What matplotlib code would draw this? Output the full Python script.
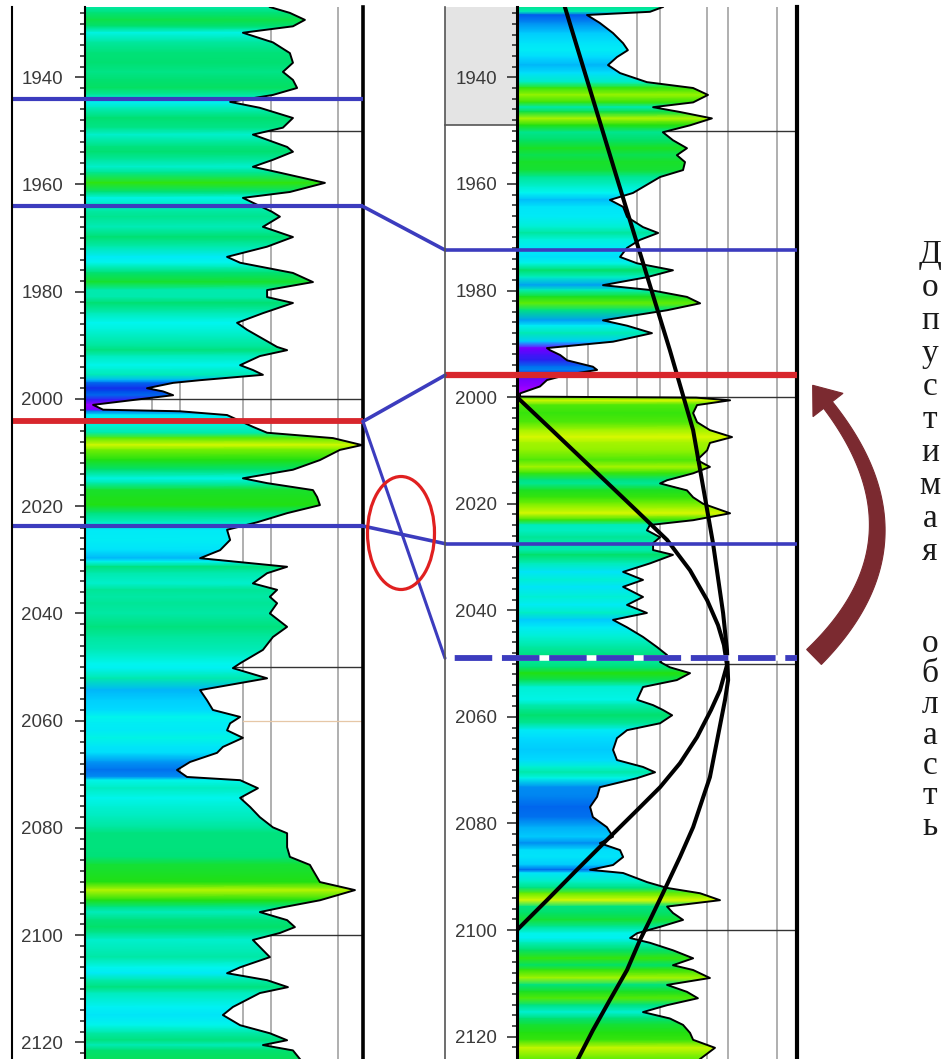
import numpy as np
import matplotlib
matplotlib.use("Agg")
import matplotlib.pyplot as plt
from matplotlib.colors import LinearSegmentedColormap, Normalize
from matplotlib.patches import Polygon, Ellipse, Rectangle, ConnectionPatch
from matplotlib.lines import Line2D

plt.rcParams['font.family'] = ['Liberation Sans', 'DejaVu Sans']
plt.rcParams['lines.scale_dashes'] = False

# ---- log values (track width in %, depth in m) ----
depth_L = [1926.9, 1928.0, 1929.3, 1930.5, 1931.7, 1933.5, 1935.5, 1937.3, 1939.0, 1940.5,
           1942.0, 1943.3, 1944.6, 1945.7, 1947.6, 1949.4, 1950.7, 1953.0, 1953.9, 1955.4,
           1956.7, 1957.8, 1959.7, 1961.4, 1962.5, 1963.4, 1965.1, 1966.0, 1967.9, 1969.8,
           1971.6, 1973.5, 1974.6, 1976.5, 1978.2, 1979.7, 1981.0, 1982.1, 1984.0, 1985.8,
           1987.1, 1990.3, 1990.9, 1992.0, 1993.7, 1994.6, 1995.5, 1996.5, 1997.0, 1998.0,
           1998.6, 1999.3, 2000.2, 2001.1, 2002.0, 2002.3, 2003.0, 2003.5, 2005.2, 2006.3,
           2007.3, 2008.6, 2009.5, 2011.4, 2013.2, 2014.8, 2015.7, 2017.0, 2018.3, 2019.8,
           2021.3, 2023.0, 2024.4, 2026.3, 2028.2, 2029.7, 2030.3, 2031.3, 2032.5, 2034.4,
           2035.6, 2036.9, 2038.1, 2040.0, 2042.5, 2044.4, 2046.8, 2049.3, 2050.2, 2052.1,
           2054.3, 2056.2, 2058.0, 2059.3, 2060.5, 2061.8, 2063.2, 2064.9, 2066.0, 2067.7,
           2069.2, 2070.5, 2071.1, 2072.6, 2074.4, 2076.1, 2078.0, 2079.9, 2081.0, 2083.6,
           2085.4, 2086.9, 2087.9, 2090.1, 2091.6, 2093.5, 2094.8, 2095.7, 2097.2, 2098.5,
           2099.6, 2100.9, 2102.8, 2104.1, 2106.0, 2107.1, 2108.4, 2109.7, 2110.8, 2113.4,
           2114.9, 2116.8, 2118.3, 2119.6, 2120.5, 2121.5, 2123.1]
gr_L = [66.5, 73.7, 79.1, 74.8, 56.8, 67.6, 73.7, 74.8, 71.2, 74.8,
        76.3, 67.6, 52.2, 62.9, 74.8, 71.2, 60.4, 72.7, 74.8, 67.6,
        60.4, 70.1, 86.3, 73.7, 56.8, 60.4, 67.3, 70.1, 64.0, 74.8,
        65.5, 51.1, 55.8, 74.8, 82.0, 65.5, 65.5, 74.8, 64.0, 54.7,
        58.3, 69.1, 72.7, 62.9, 55.8, 60.4, 64.0, 41.4, 31.7, 22.3,
        28.1, 31.7, 17.3, 2.9, 6.5, 34.2, 51.1, 53.2, 60.4, 65.5,
        89.2, 99.6, 91.7, 84.5, 74.8, 56.8, 65.5, 82.0, 83.5, 84.5,
        72.7, 61.9, 51.1, 52.2, 48.6, 41.4, 53.2, 72.7, 65.5, 60.4,
        69.1, 66.5, 69.1, 66.5, 72.7, 67.6, 64.0, 55.8, 53.2, 65.5,
        41.4, 43.9, 46.0, 55.8, 52.2, 51.1, 56.8, 49.6, 47.5, 37.8,
        33.1, 36.7, 55.8, 62.2, 55.8, 59.4, 62.9, 67.6, 72.7, 72.7,
        73.7, 80.9, 82.0, 84.5, 97.1, 84.5, 71.2, 62.9, 72.7, 75.5,
        70.1, 60.4, 64.0, 66.5, 55.8, 51.1, 65.5, 73.0, 62.9, 53.2,
        49.6, 55.8, 66.5, 72.7, 64.0, 74.8, 77.3]

depth_R = [1926.8, 1927.7, 1928.3, 1929.8, 1931.7, 1933.6, 1934.9, 1936.2, 1937.7, 1939.2,
           1940.9, 1942.0, 1943.3, 1944.7, 1945.6, 1946.5, 1947.7, 1949.0, 1950.3, 1951.8,
           1953.3, 1954.6, 1955.9, 1957.4, 1958.7, 1960.6, 1961.7, 1963.0, 1964.3, 1966.2,
           1968.1, 1969.2, 1970.5, 1972.0, 1973.7, 1974.9, 1976.2, 1977.5, 1979.0, 1979.9,
           1981.2, 1982.4, 1983.7, 1985.6, 1986.6, 1988.0, 1989.6, 1990.8, 1991.2, 1992.1,
           1993.1, 1994.3, 1994.9, 1995.8, 1996.8, 1998.0, 1999.3, 1999.9, 2000.1, 2000.6,
           2001.5, 2003.0, 2004.7, 2006.2, 2007.5, 2008.6, 2010.0, 2011.8, 2013.1, 2014.3,
           2015.6, 2016.2, 2017.5, 2018.8, 2020.0, 2021.8, 2023.1, 2024.0, 2025.0, 2026.3,
           2027.4, 2028.7, 2029.6, 2031.2, 2032.8, 2034.3, 2035.6, 2037.5, 2039.0, 2040.5,
           2041.8, 2043.2, 2045.0, 2046.9, 2048.4, 2049.7, 2050.7, 2051.8, 2053.1, 2054.4,
           2056.8, 2057.8, 2058.7, 2059.7, 2061.2, 2062.5, 2064.0, 2066.2, 2068.1, 2069.4,
           2070.4, 2071.5, 2073.2, 2075.0, 2076.9, 2078.8, 2080.7, 2082.5, 2083.7, 2085.0,
           2086.3, 2087.8, 2088.7, 2089.3, 2091.0, 2092.1, 2093.1, 2094.4, 2095.6, 2096.8,
           2098.1, 2099.4, 2100.6, 2101.5, 2102.4, 2103.8, 2105.3, 2106.6, 2107.5, 2109.0,
           2110.3, 2111.6, 2112.8, 2114.1, 2115.4, 2116.6, 2117.8, 2119.3, 2120.6, 2122.1,
           2124.2]
gr_R = [52.1, 47.5, 25.0, 29.6, 34.3, 37.9, 39.6, 35.7, 32.5, 36.8,
        46.4, 62.9, 68.2, 62.9, 48.6, 58.2, 69.6, 61.8, 52.1, 55.7,
        60.7, 57.1, 60.0, 59.3, 51.1, 45.0, 41.4, 33.2, 37.9, 39.3,
        45.0, 50.4, 43.9, 39.3, 36.8, 42.9, 55.7, 46.4, 30.7, 47.5,
        60.7, 65.4, 53.6, 30.7, 39.3, 48.2, 34.3, 10.7, 11.8, 15.4,
        17.9, 27.1, 28.6, 17.9, 10.7, 8.2, 1.1, 1.1, 64.0, 76.1,
        64.3, 62.9, 64.3, 68.9, 76.8, 68.9, 67.9, 64.3, 68.9, 62.9,
        53.6, 51.1, 60.7, 62.9, 66.4, 76.1, 62.9, 47.5, 46.4, 51.1,
        48.6, 48.6, 55.7, 47.5, 37.9, 45.0, 37.9, 45.0, 39.3, 46.4,
        34.3, 39.3, 45.0, 50.0, 53.6, 51.1, 54.6, 61.8, 57.1, 45.0,
        42.9, 48.6, 52.1, 55.4, 51.1, 39.3, 35.7, 34.3, 35.7, 45.0,
        49.3, 42.9, 29.6, 28.6, 26.1, 27.1, 32.1, 34.3, 29.6, 36.8,
        37.9, 34.3, 26.1, 37.9, 46.4, 53.6, 65.4, 72.5, 53.6, 55.7,
        59.3, 51.1, 42.9, 40.4, 47.5, 55.7, 62.9, 55.7, 62.9, 68.9,
        53.6, 60.7, 64.6, 53.6, 45.0, 54.6, 59.3, 61.8, 62.9, 70.7,
        65.4]

# trend curves drawn over the right log
trend1_depth = [1926.8, 1958.9, 1991.2, 2006.2, 2027.4, 2040.5, 2047.5, 2053.1, 2056.8,
                2071.3, 2080.7, 2086.3, 2093.1, 2098.1, 2101.9, 2107.5, 2113.1, 2118.8, 2124.2]
trend1_val = [17.1, 35.7, 54.6, 62.9, 70.0, 73.6, 75.0, 75.4, 74.3,
              68.9, 62.9, 58.2, 52.1, 47.5, 43.9, 39.3, 33.2, 27.1, 21.8]
trend2_depth = [2000.0, 2006.2, 2013.7, 2021.2, 2026.8, 2032.5, 2038.1, 2042.8, 2046.5,
                2050.3, 2055.0, 2058.7, 2063.8, 2068.7, 2073.2, 2077.5, 2083.1, 2088.7,
                2094.4, 2100.0]
trend2_val = [0.0, 12.5, 27.5, 42.5, 53.6, 61.8, 67.9, 71.8, 73.9,
              75.0, 72.5, 69.3, 64.3, 58.2, 51.1, 42.9, 32.1, 21.4,
              10.7, 0.0]

depth_ticks = list(range(1940, 2121, 20))

# correlation picks: (left well depth, right well depth)
left_only_blue = [1944.0]
blue_pairs = [(1964.1, 1972.4), (2023.7, 2027.5)]
red_pair = (2004.2, 1995.9)
dashed_right = 2049.0

label_word1 = "Допустимая"
label_word2 = "область"

# ---- layout ----
W, H = 947, 1059
fig = plt.figure(figsize=(W / 100, H / 100), dpi=100)


def fx(p):
    return p / W


def fy(p):
    return 1 - p / H


TOP = 7
axL = fig.add_axes([fx(85), 0, fx(363) - fx(85), fy(TOP)])
axR = fig.add_axes([fx(517), 0, fx(797) - fx(517), fy(TOP)])

cmap = LinearSegmentedColormap.from_list('gr', [
    (0.00, '#b000ff'), (0.10, '#6a00ff'), (0.25, '#0038e8'), (0.35, '#0080f0'),
    (0.45, '#00d8ff'), (0.55, '#00f6f0'), (0.65, '#00eab0'), (0.75, '#00e070'),
    (0.85, '#22e010'), (0.92, '#78f000'), (1.00, '#d8f800')])


def draw_track(ax, depth, val, norm, ylim, grid_x):
    ax.set_xlim(0, 100)
    ax.set_ylim(*ylim)
    for gx in grid_x:
        ax.axvline(gx, color='#9a9a9a', lw=1.1, zorder=1)
    for gy in (1950, 2000, 2050, 2100):
        ax.axhline(gy, color='#333333', lw=1.0, zorder=1)
    d = np.asarray(depth, float)
    v = np.asarray(val, float)
    clip = Polygon(np.column_stack([np.r_[0, v, 0], np.r_[d[0], d, d[-1]]]),
                   closed=True, fc='none', ec='none')
    ax.add_patch(clip)
    X = np.column_stack([np.zeros_like(d), np.full_like(d, 100.0)])
    Y = np.column_stack([d, d])
    C = np.column_stack([v, v])
    mesh = ax.pcolormesh(X, Y, C, shading='gouraud', cmap=cmap, norm=norm, zorder=2)
    mesh.set_clip_path(clip)
    ax.plot(v, d, color='black', lw=1.4, zorder=3)

    ax.set_xticks([])
    ax.set_yticks(depth_ticks)
    ax.set_yticks(np.arange(1928, 2124, 2), minor=True)
    ax.tick_params(axis='y', which='major', direction='out', length=7.2, width=1.2,
                   color='#333333', labelsize=13.5, labelcolor='#3a3a3a')
    ax.tick_params(axis='y', which='minor', direction='out', length=3.6, width=1.2,
                   color='#333333')
    ax.spines['top'].set_visible(False)
    ax.spines['bottom'].set_visible(False)


draw_track(axL, depth_L, gr_L, Normalize(0, 100), (2123.1, 1926.9),
           [24, 34, 57, 67, 91])
draw_track(axR, depth_R, gr_R, Normalize(5, 72), (2124.2, 1926.8),
           [18, 25.5, 43, 51, 68, 75.5, 93])
axL.tick_params(axis='y', which='major', pad=8.5)
axR.tick_params(axis='y', which='major', pad=7.2)
axL.spines['left'].set_linewidth(1.5)
axL.spines['right'].set_linewidth(2.6)
axR.spines['left'].set_linewidth(2.2)
axR.spines['right'].set_linewidth(3.0)

# faint marker line in the left log
axL.plot([57, 100], [2060, 2060], color='#e6c7a6', lw=0.9, zorder=1)

# trend curves
axR.plot(trend1_val, trend1_depth, color='black', lw=2.9, zorder=4)
axR.plot(trend2_val, trend2_depth, color='black', lw=2.9, zorder=4)

# depth-column frames
tL = axL.get_yaxis_transform()
tR = axR.get_yaxis_transform()
xL0 = (12 - 85) / 278
xR0 = (445 - 517) / 280
axR.add_patch(Rectangle((xR0, 1926.8), -xR0, 1948.9 - 1926.8, transform=tR,
                        clip_on=False, fc='#e4e4e4', ec='none', zorder=0))
axR.plot([xR0, 0], [1948.9, 1948.9], transform=tR, color='#555555', lw=1.2,
         clip_on=False, zorder=1)
fig.add_artist(Line2D([fx(445)] * 2, [0, fy(TOP)], color='#555555', lw=1.2))
fig.add_artist(Line2D([fx(12)] * 2, [0, fy(TOP)], color='black', lw=1.5))

# correlation lines
blue = '#3c3cbe'
red = '#d8262c'
for d in left_only_blue:
    axL.plot([xL0, 1], [d, d], transform=tL, color=blue, lw=3.0, clip_on=False,
             zorder=6, solid_capstyle='butt')
for dl, dr in blue_pairs:
    axL.plot([xL0, 1], [dl, dl], transform=tL, color=blue, lw=3.0, clip_on=False,
             zorder=6, solid_capstyle='butt')
    axR.plot([xR0, 1], [dr, dr], transform=tR, color=blue, lw=2.6, clip_on=False,
             zorder=6, solid_capstyle='butt')
    fig.add_artist(ConnectionPatch(xyA=(1, dl), coordsA=tL, xyB=(xR0, dr), coordsB=tR,
                                   color=blue, lw=2.6))

axL.plot([xL0, 1], [red_pair[0]] * 2, transform=tL, color=red, lw=4.2, clip_on=False,
         zorder=6, solid_capstyle='butt')
axR.plot([xR0, 1], [red_pair[1]] * 2, transform=tR, color=red, lw=4.5, clip_on=False,
         zorder=6, solid_capstyle='butt')
fig.add_artist(ConnectionPatch(xyA=(1, red_pair[0]), coordsA=tL, xyB=(xR0, red_pair[1]),
                               coordsB=tR, color=blue, lw=2.6))
fig.add_artist(ConnectionPatch(xyA=(1, red_pair[0]), coordsA=tL, xyB=(xR0, dashed_right),
                               coordsB=tR, color=blue, lw=2.2))
axR.plot([0, 1], [dashed_right] * 2, transform=tR, color='white', lw=4.0, clip_on=False,
         zorder=5, solid_capstyle='butt')
axR.plot([xR0, 1], [dashed_right] * 2, transform=tR, color=blue, lw=4.2, clip_on=False,
         zorder=6, linestyle=(27, (27, 7)), dash_capstyle='butt')

# highlight of the crossing
fig.add_artist(Ellipse((fx(401), fy(533)), width=67 / W, height=113 / H,
                       transform=fig.transFigure, fill=False, ec='#e02020', lw=2.3))

# tapered curved arrow (pixel geometry, y downwards)
p0, p1, p2 = np.array([814., 657.]), np.array([933., 540.]), np.array([828., 405.])
t = np.linspace(0, 1, 80)[:, None]
centre = (1 - t) ** 2 * p0 + 2 * t * (1 - t) * p1 + t ** 2 * p2
tang = 2 * (1 - t) * (p1 - p0) + 2 * t * (p2 - p1)
tang /= np.linalg.norm(tang, axis=1, keepdims=True)
norm_v = np.column_stack([-tang[:, 1], tang[:, 0]])
half = (10.5 - 5.0 * t)
body = np.vstack([centre + half * norm_v, (centre - half * norm_v)[::-1]])
u_end, n_end = tang[-1], norm_v[-1]
head = np.array([p2 + 19 * n_end, p2 + 25 * u_end, p2 - 19 * n_end])
arrow_col = '#7b2a30'
for shape in (body, head):
    fig.add_artist(Polygon(np.column_stack([shape[:, 0] / W, 1 - shape[:, 1] / H]),
                           closed=True, transform=fig.transFigure,
                           fc=arrow_col, ec=arrow_col, lw=0.8))

# vertical caption
for i, ch in enumerate(label_word1):
    fig.text(fx(930), fy(263 + i * 33.0), ch, ha='center', va='baseline',
             fontsize=24, family='Liberation Serif', color='#1a1a1a')
for i, ch in enumerate(label_word2):
    fig.text(fx(930), fy(652 + i * 30.5), ch, ha='center', va='baseline',
             fontsize=24, family='Liberation Serif', color='#1a1a1a')

fig.savefig('out.png', dpi=100, facecolor='white')
